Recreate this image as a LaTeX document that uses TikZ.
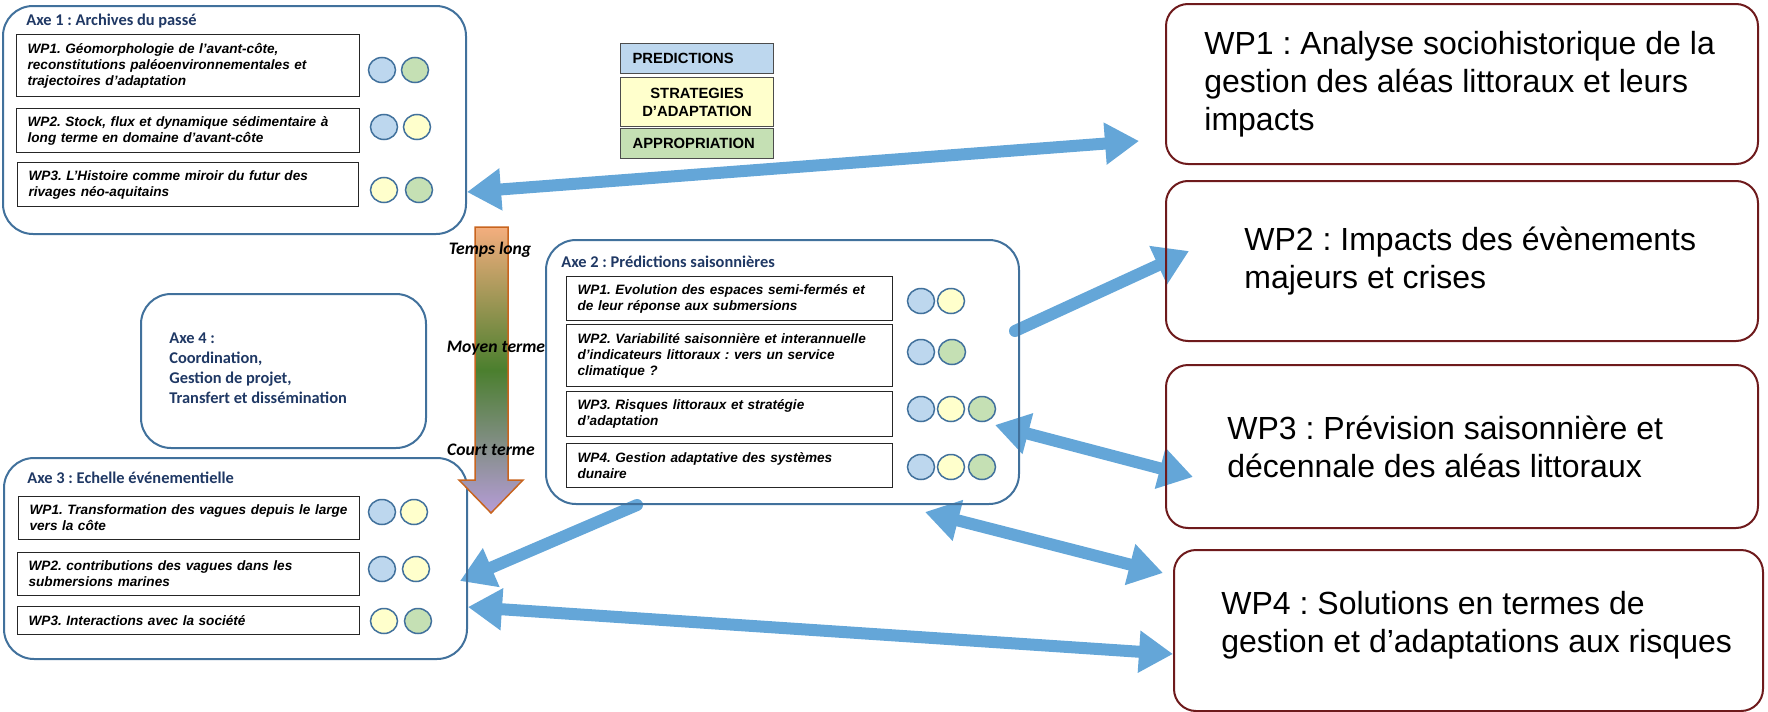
\documentclass[tikz,border=0pt]{standalone}
\usepackage{fontspec}
\setmainfont{Liberation Sans}
\newfontfamily\calfont{Carlito}
\usetikzlibrary{calc}
\usetikzlibrary{arrows.meta}
\usetikzlibrary{positioning}
\frenchspacing

\definecolor{axeline}{HTML}{41719C}
\definecolor{axetext}{HTML}{1F3864}
\definecolor{wpline}{HTML}{6E1A1C}
\definecolor{linkblue}{HTML}{64A6D8}
\definecolor{predfill}{HTML}{BDD7EE}
\definecolor{stratfill}{HTML}{FFFFCC}
\definecolor{approfill}{HTML}{C5E0B4}
\definecolor{gradtop}{HTML}{F4AE7E}
\definecolor{gradmid}{HTML}{4B7F2E}
\definecolor{gradbot}{HTML}{B69CD8}
\definecolor{gradline}{HTML}{C8641E}

\tikzset{
  axebox/.style={draw=axeline, line width=1pt, rounded corners=15pt, anchor=north west, inner sep=0pt},
  axetitle/.style={anchor=west, inner sep=0pt, text=axetext, font=\calfont\bfseries\fontsize{8.2}{10}\selectfont},
  wpbox/.style 2 args={draw=black!85, line width=0.6pt, anchor=north west, inner xsep=5.5pt, inner ysep=0pt,
    align=left, text width=#1, minimum height=#2, font=\bfseries\itshape\fontsize{6.8}{8}\selectfont},
  legbox/.style={draw=black!70, line width=0.6pt, anchor=north west, inner xsep=6pt, inner ysep=0pt,
    text width=64.5pt, minimum height=#1, font=\bfseries\fontsize{7.4}{9}\selectfont},
  rbox/.style={draw=wpline, line width=1pt, rounded corners=11pt, anchor=north west, inner sep=0pt},
  rtext/.style={anchor=west, inner sep=0pt, align=left, font=\fontsize{16}{19}\selectfont},
  timelab/.style={inner sep=0pt, font=\calfont\bfseries\itshape\fontsize{8.8}{10}\selectfont},
  dot/.style={draw=axeline, line width=0.75pt},
  link/.style={draw=linkblue, line width=6pt},
  headtip/.tip={Triangle[length=17pt, width=20pt]},
}

\begin{document}
\begin{tikzpicture}[x=0.5pt, y=-0.5pt]
\useasboundingbox (0,0) rectangle (1768,712);

% blue links, under the boxes
\coordinate (l1a) at (467,192);  \coordinate (l1b) at (1139,141);
\coordinate (l2a) at (1015,331); \coordinate (l2b) at (1189,251);
\coordinate (l3a) at (995,425);  \coordinate (l3b) at (1193,477);
\coordinate (l4a) at (925,512);  \coordinate (l4b) at (1163,573);
\coordinate (l5a) at (637,505);  \coordinate (l5b) at (460,581);
\coordinate (l6a) at (468,607);  \coordinate (l6b) at (1173,654);
\draw[link, headtip-headtip] (l1a) -- (l1b);
\draw[link, line cap=round, -headtip] (l2a) -- (l2b);
\draw[link, headtip-headtip] (l3a) -- (l3b);
\draw[link, headtip-headtip] (l4a) -- (l4b);
\draw[link, line cap=round, -headtip] (l5a) -- (l5b);
\draw[link, headtip-headtip] (l6a) -- (l6b);

% Axe 1
\node[axebox, minimum width=231.5pt, minimum height=114pt] (axe1) at (2,5) {};
\node[axetitle] (axe1t) at (26,21) {Axe 1 : Archives du passé};
\node[wpbox={160.5pt}{31pt}] (a1wp1) at (16,34) {WP1. Géomorphologie de l’avant-côte,\\ reconstitutions paléoenvironnementales et\\ trajectoires d’adaptation};
\node[wpbox={160.5pt}{22pt}] (a1wp2) at (16,108) {WP2. Stock, flux et dynamique sédimentaire à\\ long terme en domaine d’avant-côte};
\node[wpbox={159.5pt}{22pt}] (a1wp3) at (17,162) {WP3. L’Histoire comme miroir du futur des\\ rivages néo-aquitains};

% Axe 2
\node[axebox, minimum width=236.5pt, minimum height=132pt] (axe2) at (545,239) {};
\node[axetitle] (axe2t) at (561,262) {Axe 2 : Prédictions saisonnières};
\node[wpbox={152pt}{22pt}] (a2wp1) at (566,276) {WP1. Evolution des espaces semi-fermés et\\ de leur réponse aux submersions};
\node[wpbox={152pt}{31pt}] (a2wp2) at (566,324) {WP2. Variabilité saisonnière et interannuelle\\ d’indicateurs littoraux : vers un service\\ climatique ?};
\node[wpbox={152pt}{22.5pt}] (a2wp3) at (566,391) {WP3. Risques littoraux et stratégie\\ d’adaptation};
\node[wpbox={152pt}{22pt}] (a2wp4) at (566,443) {WP4. Gestion adaptative des systèmes\\ dunaire};

% Axe 3
\node[axebox, minimum width=231.5pt, minimum height=100.5pt] (axe3) at (3,457) {};
\node[axetitle] (axe3t) at (27,478) {Axe 3 : Echelle événementielle};
\node[wpbox={159.5pt}{21.5pt}] (a3wp1) at (18,496) {WP1. Transformation des vagues depuis le large\\ vers la côte};
\node[wpbox={160pt}{21.5pt}] (a3wp2) at (17,552) {WP2. contributions des vagues dans les\\ submersions marines};
\node[wpbox={160pt}{14pt}] (a3wp3) at (17,606) {WP3. Interactions avec la société};

% Axe 4
\node[axebox, minimum width=142.5pt, minimum height=77pt] (axe4) at (140,293) {};
\node[axetitle, align=left] (axe4t) at (169,368.5) {Axe 4 :\\ Coordination,\\ Gestion de projet,\\ Transfert et dissémination};

% pastilles
\foreach \x/\y/\c in {382/70/predfill, 415/70/approfill, 384/127/predfill, 417/127/stratfill,
  384/190/stratfill, 419/190/approfill,
  921/301/predfill, 951/301/stratfill, 921/352/predfill, 952/352/approfill,
  921/409/predfill, 951/409/stratfill, 982/409/approfill,
  921/467/predfill, 951/467/stratfill, 982/467/approfill,
  382/512/predfill, 414/512/stratfill, 382/569/predfill, 416/569/stratfill,
  384/621/stratfill, 418/621/approfill}
  \draw[dot, fill=\c] (\x,\y) ellipse [x radius=6.75pt, y radius=6.25pt];

% legende
\node[legbox=15pt, fill=predfill, align=left] (leg1) at (620,43) {PREDICTIONS};
\node[legbox=24.5pt, fill=stratfill, align=center] (leg2) at (620,77) {STRATEGIES\\ D’ADAPTATION};
\node[legbox=15pt, fill=approfill, align=left] (leg3) at (620,128) {APPROPRIATION};

% echelle de temps
\shadedraw[draw=gradline, line width=0.75pt, top color=gradtop, bottom color=gradbot, middle color=gradmid]
  (475,227) -- (508,227) -- (508,480) -- (523,480) -- (491,513) -- (459,480) -- (475,480) -- cycle;
\node[timelab] (tlong) at (490,250) {Temps long};
\node[timelab] (tmoyen) at (496,348) {Moyen terme};
\node[timelab] (tcourt) at (491,450) {Court terme};

% WP de droite
\node[rbox, minimum width=296pt, minimum height=80pt] (r1) at (1165,3) {};
\node[rtext, right=19.5pt of r1.west] (r1t) {WP1 : Analyse sociohistorique de la\\ gestion des aléas littoraux et leurs\\ impacts};
\node[rbox, minimum width=296pt, minimum height=80pt] (r2) at (1165,180) {};
\node[rtext, right=39.5pt of r2.west] (r2t) {WP2 : Impacts des évènements\\ majeurs et crises};
\node[rbox, minimum width=296pt, minimum height=81.5pt] (r3) at (1165,364) {};
\node[rtext, right=31pt of r3.west] (r3t) {WP3 : Prévision saisonnière et\\ décennale des aléas littoraux};
\node[rbox, minimum width=294.5pt, minimum height=80.5pt] (r4) at (1173,549) {};
\node[rtext, right=24pt of r4.west, yshift=2.75pt] (r4t) {WP4 : Solutions en termes de\\ gestion et d’adaptations aux risques};
\end{tikzpicture}
\end{document}
